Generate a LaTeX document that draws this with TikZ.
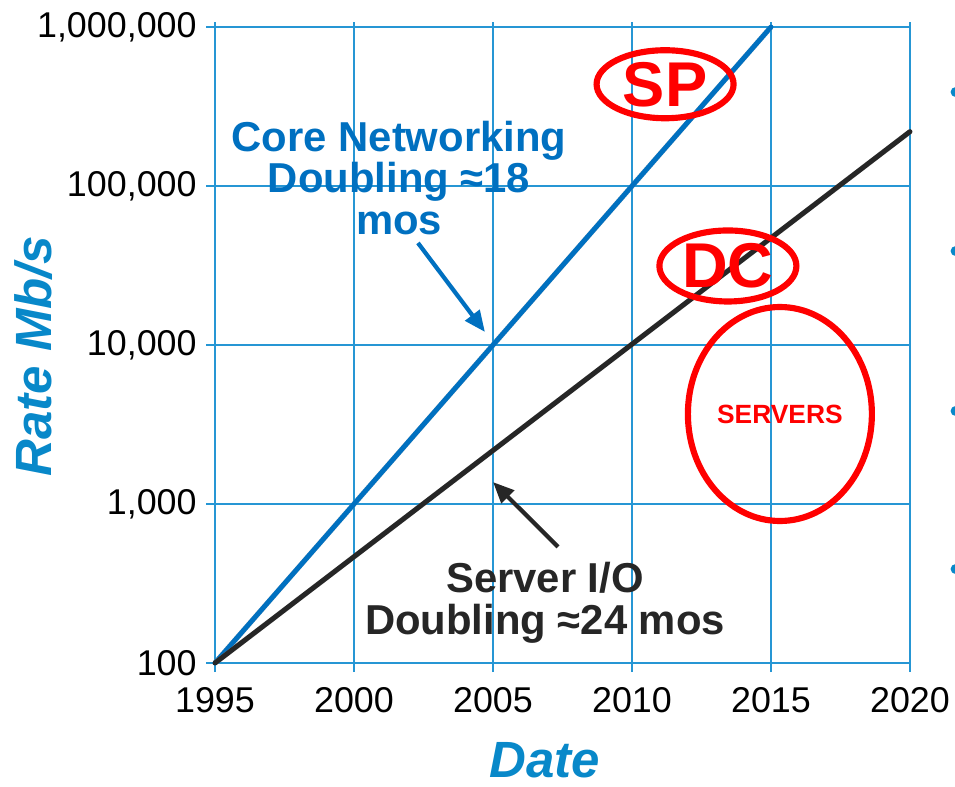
\documentclass[tikz,border=0pt]{standalone}
\usepackage{fontspec}
\setmainfont{Liberation Sans}
\usepackage{xcolor}
\usetikzlibrary{arrows.meta}
\usetikzlibrary{shapes.geometric}
\usetikzlibrary{positioning}

\definecolor{gridblue}{RGB}{38,150,212}
\definecolor{coreblue}{RGB}{0,112,192}
\definecolor{axisblue}{RGB}{8,136,201}
\definecolor{serverblack}{RGB}{38,38,38}
\definecolor{markred}{RGB}{255,0,0}

\tikzset{
  gridline/.style={gridblue, line width=0.9pt},
  ticklabel/.style={font=\fontsize{20.4}{20.4}\selectfont, inner sep=0pt},
  axislabel/.style={axisblue, font=\fontsize{29}{29}\selectfont\bfseries\itshape, inner sep=0pt},
  trendlabel/.style={align=center, font=\fontsize{23.8}{23.8}\selectfont\bfseries, inner sep=0pt},
  trendline/.style={line width=2.8pt, line cap=round},
  shadowline/.style={black!40, line width=3pt, opacity=0.5, xshift=1.2pt, yshift=-1.2pt},
  markring/.style={ellipse, draw=markred, line width=3.5pt, inner sep=0pt, text=markred,
    font=\fontsize{36}{36}\selectfont\bfseries},
  pointer/.style={line width=2.4pt, -{Triangle[length=12pt,width=10pt]}}
}

\begin{document}
\begin{tikzpicture}[x=0.556cm, y=3.18cm]
  \useasboundingbox (-7.734,-0.7736) rectangle (26.619,4.1698);
  % grid
  \foreach \x in {0,5,...,25}
    \draw[gridline] (\x,-0.057) -- (\x,4.03);
  \foreach \y in {0,...,4}
    \draw[gridline] (-0.32,\y) -- (25,\y);
  % tick labels
  \foreach \y/\lab in {0/100,1/{1,000},2/{10,000},3/{100,000},4/{1,000,000}}
    \node[ticklabel, anchor=east] (ytick\y) at (-0.65,\y) {\lab};
  \foreach \x/\yr in {0/1995,5/2000,10/2005,15/2010,20/2015,25/2020}
    \node[ticklabel] (xtick\yr) at (\x,-0.233) {\yr};
  % axis titles
  \node[axislabel, rotate=90] (ratelabel) at (-6.51,1.93) {Rate Mb/s};
  \node[axislabel] (datelabel) at (11.87,-0.61) {Date};

  % trend lines
  \coordinate (origin) at (0,0);
  \coordinate (coreend) at (20,4);
  \coordinate (serverend) at (25,3.342);
  \draw[shadowline] (origin) -- (coreend);
  \draw[trendline, coreblue] (origin) -- (coreend);
  \draw[shadowline] (origin) -- (serverend);
  \draw[trendline, serverblack] (origin) -- (serverend);

  % labels with pointers
  \node[trendlabel, coreblue] (corelabel) at (6.62,3.05)
    {Core Networking\\Doubling ≈18\\mos};
  \coordinate (coretail) at (7.30,2.642);
  \coordinate (coretip) at (9.71,2.082);
  \draw[pointer, coreblue] (coretail) -- (coretip);

  \node[trendlabel, serverblack] (serverlabel) at (11.87,0.377)
    {Server I/O\\Doubling ≈24 mos};
  \coordinate (servertail) at (12.34,0.730);
  \coordinate (servertip) at (10.0,1.138);
  \draw[pointer, serverblack] (servertail) -- (servertip);

  % red rings
  \node[markring, minimum width=2.74cm, minimum height=1.36cm] (sp) at (16.19,3.64) {SP};
  \node[markring, minimum width=2.74cm, minimum height=1.42cm] (dc) at (18.45,2.497) {DC};
  \node[markring, minimum width=3.68cm, minimum height=4.28cm,
    font=\fontsize{15}{15}\selectfont\bfseries] (servers) at (20.32,1.566) {SERVERS};

  % bullets at right edge
  \foreach \b in {3.591,2.591,1.585,0.591}
    \fill[axisblue] (26.64,\b) circle (0.1cm);
\end{tikzpicture}
\end{document}
